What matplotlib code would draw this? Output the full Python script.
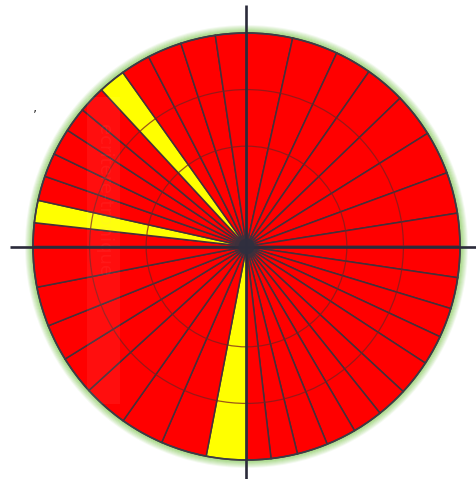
import matplotlib
matplotlib.use("Agg")
import matplotlib.pyplot as plt
from matplotlib.patches import Circle, Rectangle

# Wedge sizes in degrees, clockwise from 12 o'clock
sizes = [12.5, 12.5, 10, 11, 12, 11.8, 11.2, 9, 8.4, 8.5, 8.1, 8.1, 9.7, 8.5,
         8.3, 8.2, 8.4, 7.2, 6.6, 10.9, 12.5, 11.9, 12.3, 10.6, 10, 10.8, 11,
         6.4, 6.1, 6.7, 6.5, 7.3, 6.8, 7.4, 7.4, 8.1, 9.4, 9.5, 8.4]
highlighted = [19, 28, 34]  # indices of yellow wedges
ring_fracs = [0.47, 0.735]

W, H = 477, 479
cx, cy_img, R = 246.5, 246.5, 213.5
cy = H - cy_img

fig = plt.figure(figsize=(W / 100, H / 100), dpi=100)
ax = fig.add_axes([0, 0, 1, 1])

colors = ["#ffff00" if i in highlighted else "#ff0000" for i in range(len(sizes))]

# green glow ring
for k, a in zip(range(7, 0, -1), [0.12, 0.2, 0.3, 0.4, 0.55, 0.7, 0.85]):
    ax.add_patch(Circle((cx, cy), R + k, facecolor="none", edgecolor="#a9d98a",
                        linewidth=1.4, alpha=a, zorder=1))

ax.pie(sizes, colors=colors, startangle=90, counterclock=False,
       center=(cx, cy), radius=R,
       wedgeprops=dict(edgecolor="#45303a", linewidth=1.1, zorder=2))

# concentric grid rings
for f in ring_fracs:
    ax.add_patch(Circle((cx, cy), R * f, facecolor="none", edgecolor="#7a2020",
                        linewidth=0.9, alpha=0.75, zorder=3))

# outline
ax.add_patch(Circle((cx, cy), R, facecolor="none", edgecolor="#3c3c46",
                    linewidth=1.2, zorder=4))

# faint watermark band
ax.add_patch(Rectangle((87, H - 404), 33, 307, facecolor="white", alpha=0.06,
                       edgecolor="none", zorder=5))
ax.text(104, H - 200, "ecritere-tronique", rotation=-90, ha="center", va="center",
        fontsize=13, color="#ffb0b0", alpha=0.07, zorder=5)

# crosshair
ax.plot([10, W], [cy, cy], color="#2b2b3a", linewidth=1.9, zorder=6,
        solid_capstyle="butt")
ax.plot([cx, cx], [H - 5, 0], color="#2b2b3a", linewidth=1.9, zorder=6,
        solid_capstyle="butt")

# central hub
ax.add_patch(Circle((cx, cy), 12, facecolor="#33303f", edgecolor="none",
                    alpha=0.35, zorder=6))
ax.add_patch(Circle((cx, cy), 8, facecolor="#2f2f3f", edgecolor="none",
                    alpha=0.9, zorder=7))

ax.text(35, H - 115, "\u2019", fontsize=9, color="#222222", ha="center",
        va="center")

ax.set_xlim(0, W)
ax.set_ylim(0, H)
ax.set_aspect("equal")
ax.axis("off")

fig.savefig("out.png", dpi=100, facecolor="white")
